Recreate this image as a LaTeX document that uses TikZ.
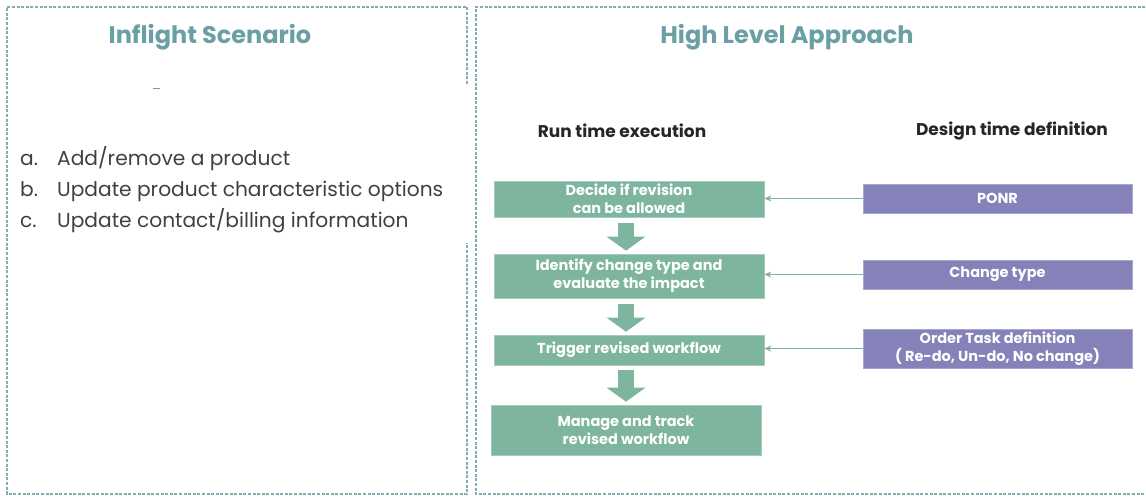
\documentclass[tikz,border=0pt]{standalone}
\usepackage{fontspec}
\setmainfont{Poppins}
\usetikzlibrary{arrows.meta,positioning}
\definecolor{teal}{HTML}{6A9FA5}
\definecolor{bordc}{HTML}{7FAEB3}
\definecolor{gbox}{HTML}{7DB59E}
\definecolor{pbox}{HTML}{8482B8}
\definecolor{listc}{HTML}{404040}
\tikzset{
  panel/.style={draw=bordc, line width=1.1pt, dash pattern=on 3pt off 1.6pt},
  title/.style={font=\fontsize{24}{28}\selectfont\bfseries, text=teal, inner sep=0pt},
  colhead/.style={font=\fontsize{17}{20}\selectfont\bfseries, text=black!85, inner sep=0pt},
  listitem/.style={font=\fontsize{20.2}{23}\selectfont, text=listc, anchor=base west, inner sep=0pt},
  gstep/.style={fill=gbox, draw=gbox!70!white, line width=0.6pt, text=white, align=center,
    font=\fontsize{14.5}{18}\selectfont\bfseries, inner sep=0pt},
  pstep/.style={fill=pbox, draw=pbox!70!white, line width=0.6pt, text=white, align=center,
    font=\fontsize{14.5}{18}\selectfont\bfseries, inner sep=0pt},
  blockarrow/.style={draw=gbox, line width=16pt, -{Triangle[length=14pt,width=38pt]}},
  thinarrow/.style={draw=gbox, line width=1pt, -{Stealth[length=7pt,width=6pt]}}
}
\begin{document}
\begin{tikzpicture}[x=1pt,y=-1pt]
\useasboundingbox (0,0) rectangle (1146,497);
% panels
\draw[panel] (467,84) -- (467,7) -- (7,7) -- (7,494) -- (467,494) -- (467,243);
\draw[panel] (1150,7) -- (476,7) -- (476,494) -- (1150,494);
\draw[teal, line width=1.2pt] (153,88.5) -- (160,88.5);
% titles
\node[title] (t1) at (210,37) {Inflight Scenario};
\node[title] (t2) at (787,37) {High Level Approach};
% list
\node[listitem] (la) at (20,166) {a.};
\node[listitem] (lb) at (20,197) {b.};
\node[listitem] (lc) at (20,228) {c.};
\node[listitem] (ta) at (57,166) {Add/remove a product};
\node[listitem] (tb) at (57,197) {Update product characteristic options};
\node[listitem] (tc) at (57,228) {Update contact/billing information};
% column headings
\node[colhead] (h1) at (622,131) {Run time execution};
\node[colhead] (h2) at (1012,131) {Design time definition};
% run time boxes
\node[gstep, minimum width=270pt, minimum height=36pt] (g1) at (629,199) {Decide if revision\\can be allowed};
\node[gstep, minimum width=270pt, minimum height=44pt] (g2) at (629,276) {Identify change type and\\evaluate the impact};
\node[gstep, minimum width=270pt, minimum height=30pt] (g3) at (629,350) {Trigger revised workflow};
\node[gstep, minimum width=270pt, minimum height=50pt] (g4) at (626,430) {Manage and track\\revised workflow};
% design time boxes
\node[pstep, minimum width=269pt, minimum height=29pt] (p1) at (997.5,198.5) {PONR};
\node[pstep, minimum width=269pt, minimum height=29pt] (p2) at (997.5,274.5) {Change type};
\node[pstep, minimum width=269pt, minimum height=39pt] (p3) at (997.5,348.5) {Order Task definition\\( Re-do, Un-do, No change)};
% block arrows
\draw[blockarrow, shorten <=6pt, shorten >=3pt] ([xshift=-3pt]g1.south) -- ([xshift=-3pt]g2.north);
\draw[blockarrow, shorten <=6pt, shorten >=3pt] ([xshift=-3pt]g2.south) -- ([xshift=-3pt]g3.north);
\draw[blockarrow, shorten <=5pt, shorten >=3pt] ([xshift=-3pt]g3.south) -- (g4.north);
% thin arrows
\draw[thinarrow] (p1.west) -- (p1.west -| g1.east);
\draw[thinarrow] (p2.west) -- (p2.west -| g2.east);
\draw[thinarrow] (p3.west) -- (p3.west -| g3.east);
\end{tikzpicture}
\end{document}
